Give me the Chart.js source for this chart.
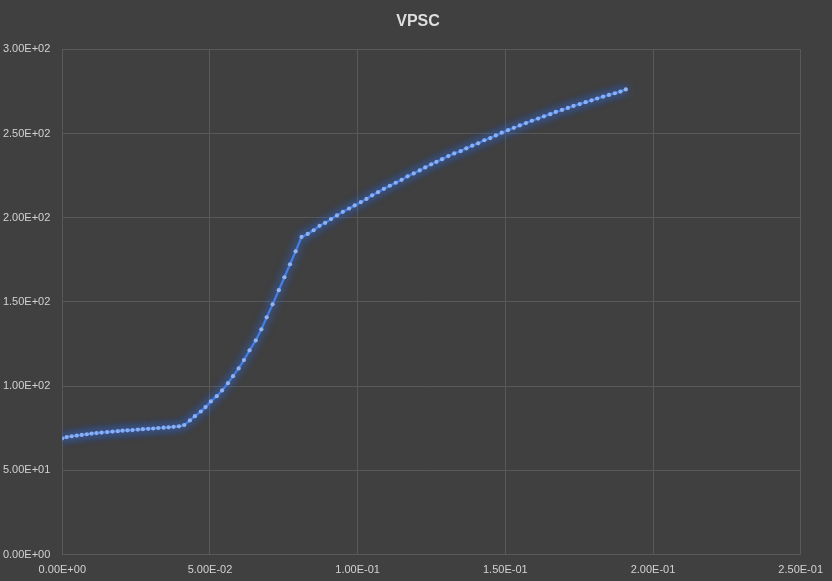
<!DOCTYPE html>
<html>
<head>
<meta charset="utf-8">
<title>VPSC</title>
<script src="https://cdn.jsdelivr.net/npm/chart.js@4.4.1/dist/chart.umd.min.js"></script>
<style>
    html, body { margin: 0; padding: 0; background: #404040; }
    #chart { display: block; }
</style>
</head>
<body>
<canvas id="chart" width="832" height="581"></canvas>
<script>
// strain values (x)
const strain = [
    0, 0.0015, 0.0032, 0.0049, 0.0066, 0.0083, 0.0099, 0.0116, 0.0133, 0.0152,
    0.0170, 0.0188, 0.0204, 0.0221, 0.0238, 0.0256, 0.0273, 0.0291, 0.0308, 0.0325,
    0.0343, 0.0360, 0.0377, 0.0395, 0.0413,
    0.0432, 0.0449, 0.0469, 0.0485, 0.0503, 0.0523, 0.0541, 0.0561, 0.0578, 0.0597,
    0.0615, 0.0634, 0.0655, 0.0674, 0.0692, 0.0712, 0.0733, 0.0752, 0.0771, 0.0790,
    0.0810,
    0.0831, 0.0851, 0.0871, 0.0890, 0.0910, 0.0930, 0.0950, 0.0971, 0.0990,
    0.1011, 0.1030, 0.1049, 0.1069, 0.1089, 0.1109, 0.1129, 0.1149, 0.1169, 0.1190,
    0.1210, 0.1229, 0.1249, 0.1267, 0.1286, 0.1307, 0.1327, 0.1349, 0.1368, 0.1388,
    0.1408, 0.1429, 0.1449, 0.1468, 0.1488,
    0.1509, 0.1529, 0.1549, 0.1570, 0.1590, 0.1611, 0.1631, 0.1652, 0.1671, 0.1692,
    0.1712, 0.1731, 0.1752, 0.1772, 0.1792, 0.1811, 0.1831, 0.1851, 0.1871, 0.1890,
    0.1908
];

// stress values (y)
const stress = [
    69.1, 69.8, 70.3, 70.7, 71.1, 71.5, 71.9, 72.2, 72.5, 72.8,
    73.1, 73.3, 73.6, 73.8, 74.0, 74.3, 74.5, 74.7, 74.9, 75.2,
    75.4, 75.6, 75.9, 76.2, 77.0,
    79.7, 82.2, 85.0, 87.6, 91.0, 94.1, 97.5, 101.8, 106.0, 110.6,
    115.5, 121.3, 127.2, 133.8, 140.9, 148.6, 157.0, 164.7, 172.4, 180.1,
    188.6,
    190.4, 192.6, 195.2, 197.0, 199.2, 201.4, 203.5, 205.5, 207.3,
    209.3, 211.2, 213.3, 215.2, 217.2, 219.0, 220.8, 222.5, 224.6, 226.3,
    228.1, 229.9, 231.7, 233.2, 234.8, 236.6, 238.2, 239.6, 241.2, 242.8,
    244.2, 246.0, 247.3, 248.9, 250.5,
    252.0, 253.4, 254.8, 256.2, 257.6, 258.9, 260.2, 261.5, 262.8, 264.0,
    265.2, 266.4, 267.5, 268.6, 269.7, 270.8, 271.9, 272.9, 273.9, 274.9,
    276.2
];

const chartTitle = 'VPSC';

// Excel style "3.00E+02"
function sci(v) {
    const [m, e] = Number(v).toExponential(2).split('e');
    const sign = e[0] === '-' ? '-' : '+';
    const digits = e.replace(/[+-]/, '').padStart(2, '0');
    return m + 'E' + sign + digits;
}

const fontFamily = '"Liberation Sans", Arial, sans-serif';

// blue glow around the line
const glowPlugin = {
    id: 'glow',
    beforeDatasetsDraw(chart) {
        const c = chart.ctx;
        c.save();
        c.shadowColor = 'rgba(50, 115, 255, 1)';
        c.shadowBlur = 10;
    },
    afterDatasetsDraw(chart) {
        chart.ctx.restore();
    }
};

// title centred on the whole canvas, like the spreadsheet one
const titlePlugin = {
    id: 'canvasTitle',
    afterDraw(chart) {
        const c = chart.ctx;
        c.save();
        c.fillStyle = '#dedede';
        c.font = 'bold 16px ' + fontFamily;
        c.textAlign = 'center';
        c.textBaseline = 'middle';
        c.fillText(chartTitle, chart.width / 2 + 2, 22);
        c.restore();
    }
};

const gridColor = '#595959';
const labelColor = '#d2d2d2';
const font = { family: fontFamily, size: 11 };

new Chart(document.getElementById('chart').getContext('2d'), {
    type: 'line',
    data: {
        datasets: [{
            label: chartTitle,
            data: strain.map((x, i) => ({ x, y: stress[i] })),
            borderColor: '#4680e6',
            borderWidth: 2.2,
            backgroundColor: '#93b3ec',
            pointBackgroundColor: '#93b3ec',
            pointBorderWidth: 0,
            pointRadius: 2.1,
            tension: 0,
            fill: false,
        }]
    },
    options: {
        responsive: false,
        animation: false,
        devicePixelRatio: 1,
        layout: { padding: { left: 0, right: 31, top: 49.3, bottom: 0 } },
        plugins: {
            legend: { display: false },
            tooltip: { enabled: false },
            title: { display: false }
        },
        scales: {
            x: {
                type: 'linear',
                min: 0,
                max: 0.25,
                ticks: {
                    stepSize: 0.05,
                    color: labelColor,
                    font,
                    padding: 9,
                    maxRotation: 0,
                    callback: v => sci(v)
                },
                grid: { color: gridColor, drawTicks: false },
                border: { color: gridColor },
                afterFit: scale => { scale.height = 26.3; }
            },
            y: {
                min: 0,
                max: 300,
                ticks: {
                    stepSize: 50,
                    color: labelColor,
                    font,
                    padding: 12,
                    callback: v => sci(v)
                },
                grid: { color: gridColor, drawTicks: false },
                border: { color: gridColor },
                afterFit: scale => { scale.width = 62.3; }
            }
        }
    },
    plugins: [glowPlugin, titlePlugin]
});
</script>
</body>
</html>
